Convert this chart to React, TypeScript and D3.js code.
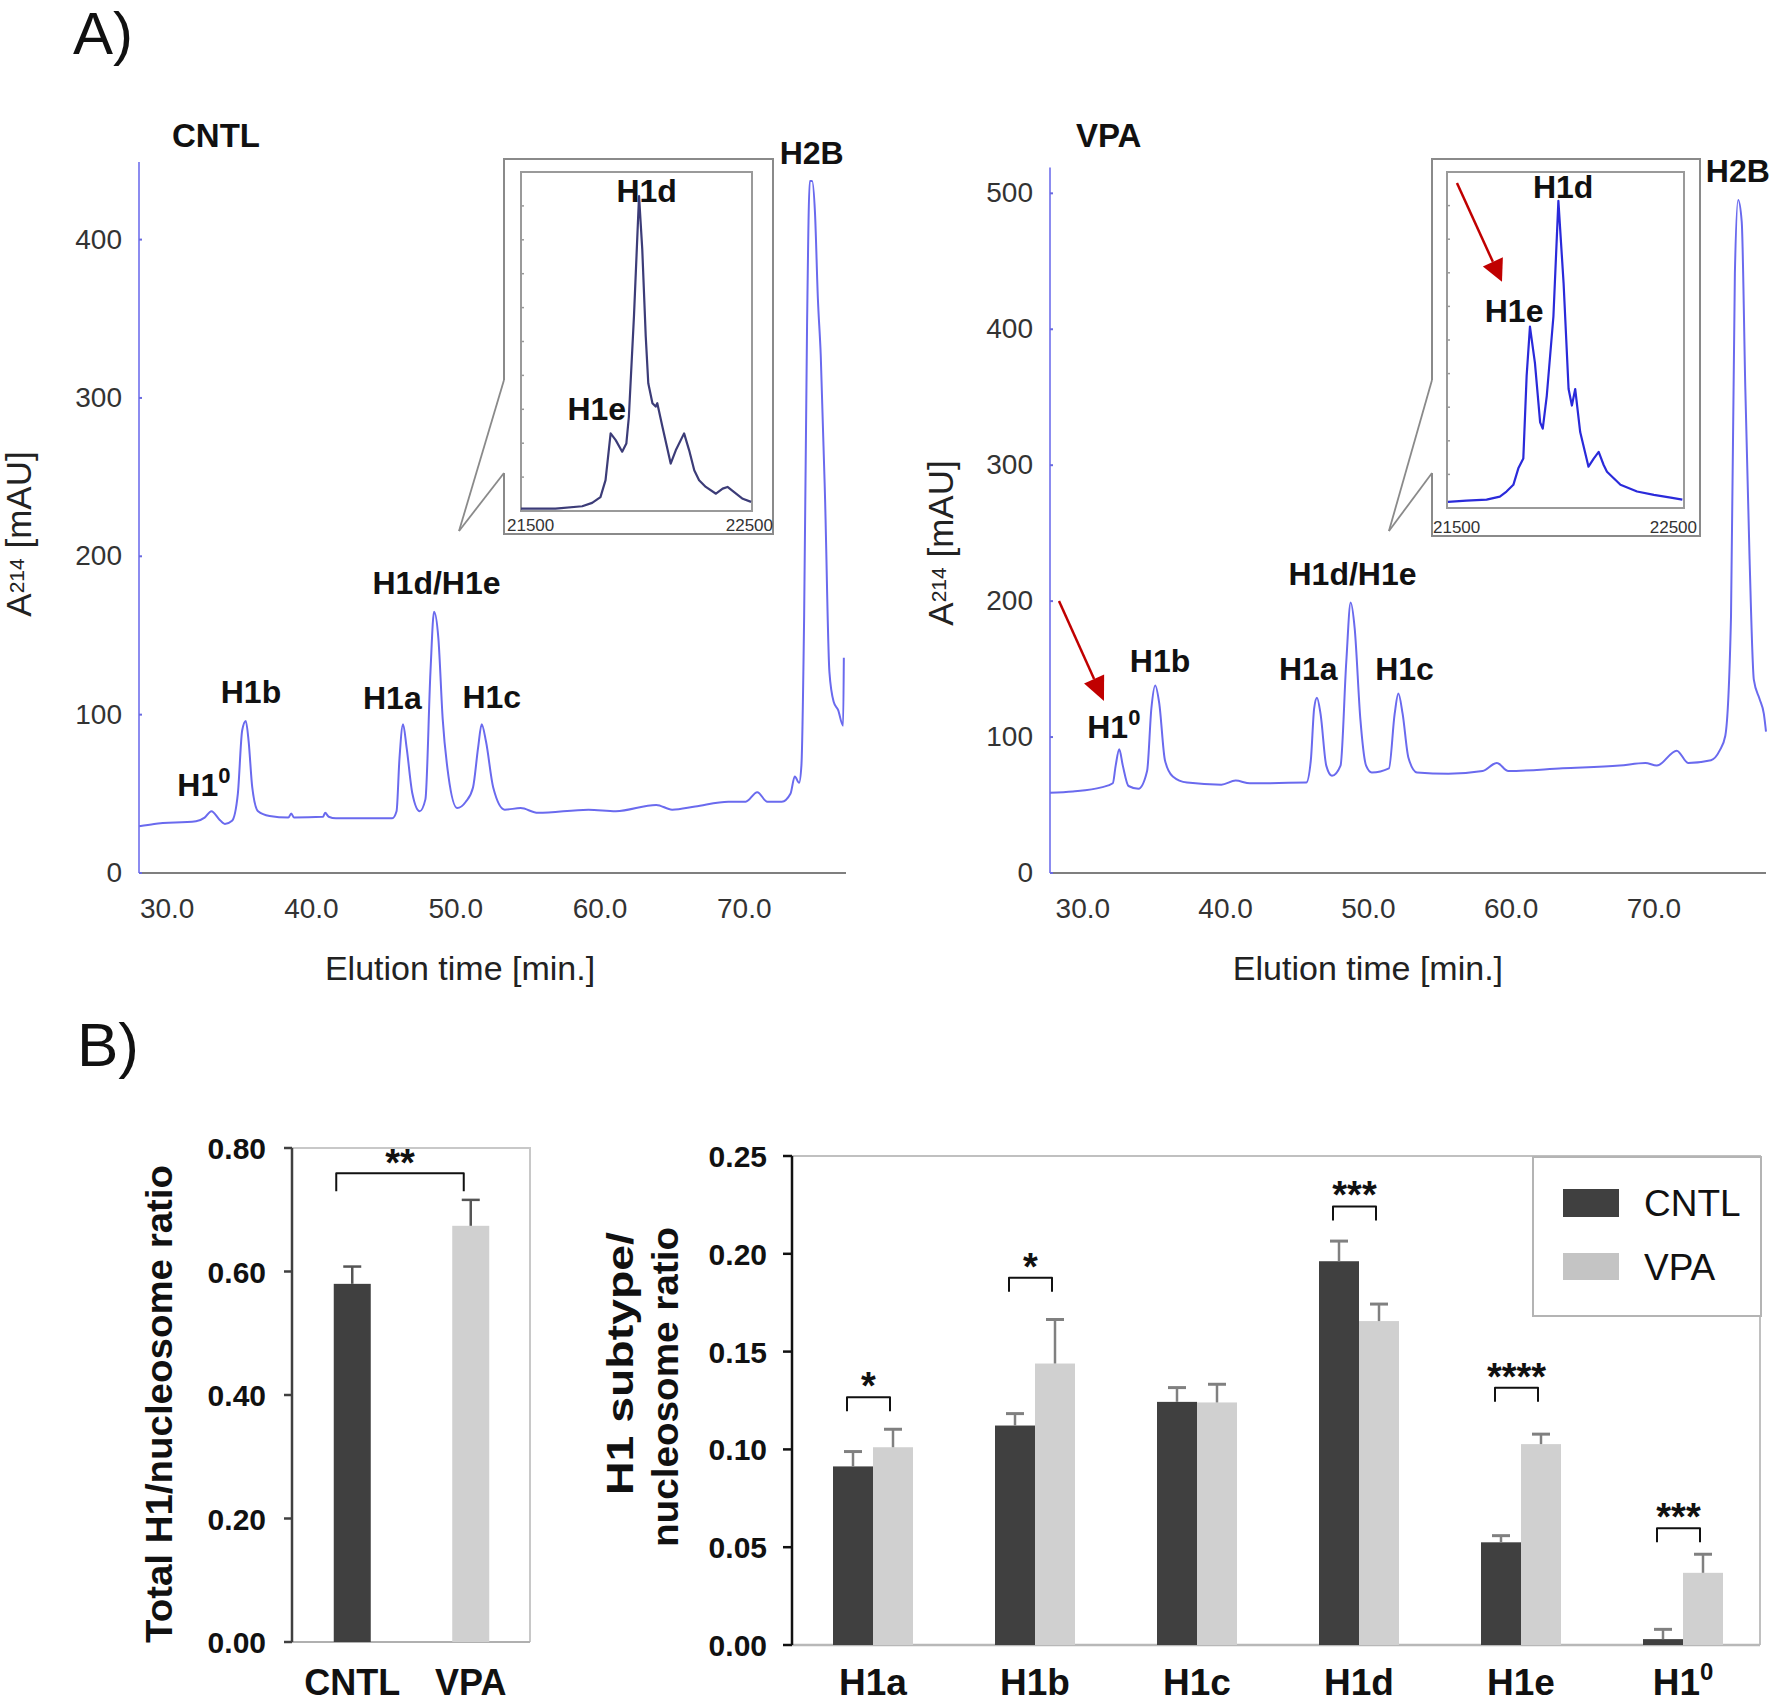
import React from 'react';
import * as d3 from 'd3';

const FONT = '"Liberation Sans", Arial, Helvetica, sans-serif';

type Pt = [number, number];

// ---------- Panel A: chromatograms, [elution time (min), A214 (mAU)] ----------
const cntlTrace: Pt[] = [
  [28.06, 29.5], [29.1, 31], [32.0, 32.7], [32.6, 35], [33.07, 39], [33.6, 34], [34.0, 31], [34.5, 33],
  [34.9, 50], [35.2, 90], [35.45, 96], [35.65, 83], [35.9, 54], [36.3, 39], [37.1, 36], [38.4, 35],
  [38.6, 37.5], [38.8, 35], [40.8, 35.5], [40.95, 38], [41.2, 35.5], [41.7, 34.5], [45.6, 34.5],
  [45.9, 39], [46.1, 72], [46.35, 94], [46.6, 79], [47.0, 50], [47.5, 39], [47.9, 46.5], [48.25, 127],
  [48.5, 165], [48.8, 148], [49.1, 97], [49.5, 61], [50.1, 41], [50.7, 45], [51.2, 54], [51.55, 79],
  [51.8, 94], [52.1, 83], [52.6, 54], [53.4, 40], [54.5, 41], [55.7, 38], [59.2, 40], [61.1, 39],
  [63.9, 43], [65.0, 40], [66.6, 42], [68.9, 45], [70.1, 45], [70.9, 51], [71.6, 45], [72.6, 45],
  [73.2, 50], [73.5, 61], [73.8, 57], [73.96, 68], [74.15, 163], [74.35, 345], [74.54, 437],
  [74.7, 437], [74.9, 417], [75.1, 363], [75.3, 327], [75.6, 236], [75.9, 127], [76.2, 108],
  [76.5, 103], [76.85, 93], [76.9, 136],
];

const vpaTrace: Pt[] = [
  [27.7, 59], [29.3, 60], [31.3, 63], [32.1, 66], [32.3, 79], [32.55, 91], [32.8, 79], [33.2, 64],
  [33.9, 62], [34.5, 75], [34.8, 121], [35.07, 138], [35.35, 125], [35.75, 83], [36.3, 71],
  [37.3, 66.5], [39.7, 65], [40.7, 68], [41.7, 66], [45.65, 66.5], [45.97, 83], [46.2, 121],
  [46.4, 129], [46.65, 117], [47.05, 79], [47.45, 71.5], [48.05, 79], [48.45, 155], [48.76, 199],
  [49.04, 180], [49.44, 113], [49.84, 79], [50.24, 74], [51.44, 77], [51.84, 117], [52.1, 132],
  [52.4, 117], [52.8, 85], [53.4, 74], [55.6, 73], [58.0, 75], [59.0, 81], [59.8, 75], [63.6, 77],
  [67.6, 79], [69.4, 81], [70.2, 79], [71.6, 90], [72.4, 81], [74.0, 83], [74.6, 90], [75.0, 101],
  [75.4, 189], [75.67, 441], [75.9, 495], [76.15, 479], [76.4, 357], [76.7, 231], [77.0, 142],
  [77.4, 128], [77.7, 117], [77.85, 104],
];

// insets: [retention index, relative signal %]
const cntlInset: Pt[] = [
  [21500, 0.7], [21649, 0.7], [21765, 1.4], [21808, 2.4], [21844, 4.1], [21866, 9.1], [21888, 22.9],
  [21910, 20.9], [21938, 17.5], [21956, 19.9], [21967, 27.8], [21989, 57.4], [22011, 92.9],
  [22025, 77.1], [22040, 51.5], [22051, 37.7], [22069, 31.8], [22083, 30.8], [22090, 31.8],
  [22112, 24.9], [22148, 14.0], [22170, 17.9], [22206, 22.9], [22228, 17.9], [22250, 12.0],
  [22271, 9.1], [22300, 7.1], [22344, 5.1], [22373, 6.6], [22394, 7.1], [22431, 5.1], [22460, 3.6],
  [22496, 2.7],
];

const vpaInset: Pt[] = [
  [21504, 1.8], [21582, 2.2], [21667, 2.5], [21723, 3.4], [21751, 4.9], [21780, 6.9], [21801, 11.8],
  [21822, 14.7], [21836, 39.3], [21850, 54.0], [21871, 43.2], [21893, 25.5], [21904, 23.6],
  [21921, 33.4], [21949, 57.0], [21970, 91.4], [21992, 66.8], [22013, 35.4], [22027, 30.5],
  [22041, 35.4], [22062, 22.6], [22097, 12.3], [22119, 14.7], [22140, 16.7], [22161, 12.8],
  [22175, 10.8], [22232, 6.9], [22302, 4.9], [22373, 3.9], [22444, 3.1], [22493, 2.5],
];

const timeTicks = [30, 40, 50, 60, 70];
const cntlYTicks = [0, 100, 200, 300, 400];
const vpaYTicks = [0, 100, 200, 300, 400, 500];
const insetTicks = [21500, 22500];

type PeakLabel = { text: string; sup?: string; t: number; v: number };
const cntlPeaks: PeakLabel[] = [
  { text: 'H1', sup: '0', t: 32.55, v: 48.6 },
  { text: 'H1b', t: 35.81, v: 107.4 },
  { text: 'H1a', t: 45.61, v: 103.6 },
  { text: 'H1d/H1e', t: 48.67, v: 176.5 },
  { text: 'H1c', t: 52.5, v: 104.2 },
  { text: 'H2B', t: 74.67, v: 447.9 },
];
const vpaPeaks: PeakLabel[] = [
  { text: 'H1', sup: '0', t: 32.17, v: 99.3 },
  { text: 'H1b', t: 35.41, v: 148.2 },
  { text: 'H1a', t: 45.79, v: 142.3 },
  { text: 'H1d/H1e', t: 48.89, v: 212.2 },
  { text: 'H1c', t: 52.53, v: 142.3 },
  { text: 'H2B', t: 75.88, v: 508.3 },
];
const cntlInsetPeaks: PeakLabel[] = [
  { text: 'H1d', t: 22044, v: 91.2 },
  { text: 'H1e', t: 21828, v: 26.8 },
];
const vpaInsetPeaks: PeakLabel[] = [
  { text: 'H1d', t: 21990, v: 92.3 },
  { text: 'H1e', t: 21783, v: 55.4 },
];

// ---------- Panel B: bar charts ----------
const groups = ['CNTL', 'VPA'];
const totalMean = [0.58, 0.674];
const totalSd = [0.028, 0.042];

const subtypes = ['H1a', 'H1b', 'H1c', 'H1d', 'H1e', 'H1⁰'];
const cntlMean = [0.0913, 0.1122, 0.1243, 0.1962, 0.0525, 0.003];
const cntlSd = [0.0076, 0.0061, 0.0073, 0.0103, 0.0034, 0.005];
const vpaMean = [0.1011, 0.1439, 0.124, 0.1656, 0.1027, 0.0369];
const vpaSd = [0.0092, 0.0225, 0.0093, 0.0087, 0.0051, 0.0095];
const sigStars = ['*', '*', '', '***', '****', '***'];
const sigLevel = [0.1267, 0.1878, 0, 0.2242, 0.1315, 0.0597];

const totalTicks = [0, 0.2, 0.4, 0.6, 0.8];
const subTicks = [0, 0.05, 0.1, 0.15, 0.2, 0.25];

const DARK = '#404040';
const LIGHT = '#d0d0d0';
const TRACE = '#6a6aee';

type Box = { x: number; y: number; w: number; h: number };
type Layout = {
  xDomain: [number, number]; xRange: [number, number];
  yDomain: [number, number]; yRange: [number, number];
  titleX: number; labelT: number; yLabelX: number; yLabelY: number;
  outer: Box; inner: Box; gap: [number, number]; tip: Pt;
  insetColor: string; tickPad: [number, number];
};

function arrow(x1: number, y1: number, x2: number, y2: number, len = 24, hw = 11) {
  const a = Math.atan2(y2 - y1, x2 - x1);
  const bx = x2 - len * Math.cos(a);
  const by = y2 - len * Math.sin(a);
  const px = -Math.sin(a) * hw;
  const py = Math.cos(a) * hw;
  return (
    <g>
      <line x1={x1} y1={y1} x2={bx} y2={by} stroke="#c00000" strokeWidth={2.5} />
      <path d={`M${x2},${y2}L${bx + px},${by + py}L${bx - px},${by - py}Z`} fill="#c00000" />
    </g>
  );
}

function label(p: PeakLabel, x: number, y: number, key: string | number, size = 32) {
  return (
    <text key={key} x={x} y={y} textAnchor="middle" fontSize={size} fontWeight="bold" fill="#111">
      {p.text}
      {p.sup && <tspan fontSize={22} dy={-13}>{p.sup}</tspan>}
    </text>
  );
}

function Chromatogram(props: {
  trace: Pt[]; inset: Pt[]; peaks: PeakLabel[]; insetPeaks: PeakLabel[]; yTicks: number[];
  title: string; lay: Layout; arrows?: [Pt, Pt]; insetArrow?: [Pt, Pt];
}) {
  const { trace, inset, peaks, insetPeaks, yTicks, title, lay } = props;
  const x = d3.scaleLinear().domain(lay.xDomain).range(lay.xRange);
  const y = d3.scaleLinear().domain(lay.yDomain).range(lay.yRange);
  const line = d3.line<Pt>().x(d => x(d[0])).y(d => y(d[1])).curve(d3.curveMonotoneX);
  const { outer, inner } = lay;
  const ix = d3.scaleLinear().domain([21500, 22500]).range([inner.x, inner.x + inner.w]);
  const iy = d3.scaleLinear().domain([0, 100]).range([inner.y + inner.h, inner.y]);
  const iline = d3.line<Pt>().x(d => ix(d[0])).y(d => iy(d[1]));
  const [x0, x1] = lay.xRange;
  const [yb, yt] = lay.yRange;
  const tipX = x(lay.tip[0]);
  const tipY = y(lay.tip[1]);
  const ob = outer.y + outer.h;

  return (
    <g fontFamily={FONT}>
      <text x={lay.titleX} y={147} fontSize={33} fontWeight="bold" fill="#111">{title}</text>
      {/* axes */}
      <line x1={x0} x2={x1} y1={yb} y2={yb} stroke="#555" strokeWidth={1.5} />
      <line x1={x0} x2={x0} y1={yb} y2={yt} stroke="#8c8cf0" strokeWidth={2} />
      {yTicks.map(t => (
        <g key={t}>
          <line x1={x0} x2={x0 + 3} y1={y(t)} y2={y(t)} stroke="#6a6ae0" strokeWidth={2} />
          <text x={x0 - 17} y={y(t) + 9} textAnchor="end" fontSize={28} fill="#333">{t}</text>
        </g>
      ))}
      {timeTicks.map(t => (
        <text key={t} x={x(t)} y={918} textAnchor="middle" fontSize={28} fill="#333">{t.toFixed(1)}</text>
      ))}
      <text x={x(lay.labelT)} y={980} textAnchor="middle" fontSize={34} fill="#222">Elution time [min.]</text>
      <text transform={`translate(${lay.yLabelX},${lay.yLabelY}) rotate(-90)`} textAnchor="middle" fontSize={35} fill="#222">
        A<tspan fontSize={21} dy={-7}>214</tspan><tspan dy={7}> [mAU]</tspan>
      </text>
      <path d={line(trace) ?? ''} fill="none" stroke={TRACE} strokeWidth={2} strokeLinejoin="round" />
      {peaks.map((p, i) => label(p, x(p.t), y(p.v), i))}

      {/* inset */}
      <path
        d={`M${outer.x},${lay.gap[0]}V${outer.y}H${outer.x + outer.w}V${ob}H${outer.x}V${lay.gap[1]}`}
        fill="none" stroke="#8a8a8a" strokeWidth={2}
      />
      <line x1={outer.x} y1={lay.gap[0]} x2={tipX} y2={tipY} stroke="#8a8a8a" strokeWidth={1.8} />
      <line x1={outer.x} y1={lay.gap[1]} x2={tipX} y2={tipY} stroke="#8a8a8a" strokeWidth={1.8} />
      <rect x={inner.x} y={inner.y} width={inner.w} height={inner.h} fill="white" stroke="#9a9a9a" strokeWidth={2} />
      {d3.range(10, 100, 10).map(v => (
        <line key={v} x1={inner.x} x2={inner.x + 3} y1={iy(v)} y2={iy(v)} stroke="#999" strokeWidth={1.5} />
      ))}
      <path d={iline(inset) ?? ''} fill="none" stroke={lay.insetColor} strokeWidth={2.2} strokeLinejoin="round" />
      {insetTicks.map((t, i) => (
        <text key={t} x={ix(t) + lay.tickPad[i]} y={ob - 3} textAnchor={i === 0 ? 'start' : 'end'} fontSize={17} fill="#333">{t}</text>
      ))}
      {insetPeaks.map((p, i) => label(p, ix(p.t), iy(p.v), 'i' + i))}
      {props.arrows && arrow(x(props.arrows[0][0]), y(props.arrows[0][1]), x(props.arrows[1][0]), y(props.arrows[1][1]))}
      {props.insetArrow && arrow(ix(props.insetArrow[0][0]), iy(props.insetArrow[0][1]), ix(props.insetArrow[1][0]), iy(props.insetArrow[1][1]), 22, 11)}
    </g>
  );
}

const cntlLayout: Layout = {
  xDomain: [28.05, 77.05], xRange: [139, 846], yDomain: [0, 449], yRange: [873, 162],
  titleX: 172, labelT: 50.3, yLabelX: 31, yLabelY: 534,
  outer: { x: 504, y: 159, w: 269, h: 375 }, inner: { x: 521, y: 172, w: 231, h: 339 },
  gap: [380, 473], tip: [50.23, 216], insetColor: '#3c3c78', tickPad: [-14, 21],
};
const vpaLayout: Layout = {
  xDomain: [27.7, 77.85], xRange: [1050, 1766], yDomain: [0, 519], yRange: [873, 167.5],
  titleX: 1076, labelT: 49.97, yLabelX: 953, yLabelY: 543,
  outer: { x: 1432, y: 159, w: 268, h: 377 }, inner: { x: 1447, y: 172, w: 237, h: 336 },
  gap: [380, 473], tip: [51.44, 251.6], insetColor: '#2a2ada', tickPad: [-14, 13],
};

function TotalChart() {
  const y = d3.scaleLinear().domain([0, 0.8]).range([1642, 1148]);
  const x = d3.scaleBand<string>().domain(groups).range([293, 530]);
  const bw = 37;
  const cx = (g: string) => (x(g) ?? 0) + x.bandwidth() / 2;
  const bTop = y(0.759);
  const bx1 = cx('CNTL') - 16;
  const bx2 = cx('VPA') - 7;
  const [yb, yt] = y.range();
  return (
    <g fontFamily={FONT}>
      <path d={`M292,${yt}H530V${yb}`} fill="none" stroke="#c8c8c8" strokeWidth={2} />
      <line x1={292} x2={530} y1={yb} y2={yb} stroke="#b0b0b0" strokeWidth={2} />
      {groups.map((g, i) => (
        <g key={g}>
          <rect x={cx(g) - bw / 2} y={y(totalMean[i])} width={bw} height={y(0) - y(totalMean[i])} fill={i === 0 ? DARK : LIGHT} />
          <line x1={cx(g)} x2={cx(g)} y1={y(totalMean[i])} y2={y(totalMean[i] + totalSd[i])} stroke="#555" strokeWidth={2.5} />
          <line x1={cx(g) - 9} x2={cx(g) + 9} y1={y(totalMean[i] + totalSd[i])} y2={y(totalMean[i] + totalSd[i])} stroke="#555" strokeWidth={2.5} />
          <text x={cx(g)} y={1695} textAnchor="middle" fontSize={36} fontWeight="bold" fill="#111">{g}</text>
        </g>
      ))}
      <line x1={292} x2={292} y1={yt} y2={yb} stroke="#404040" strokeWidth={2.5} />
      {totalTicks.map(t => (
        <g key={t}>
          <line x1={284} x2={292} y1={y(t)} y2={y(t)} stroke="#404040" strokeWidth={2.5} />
          <text x={266} y={y(t) + 11} textAnchor="end" fontSize={30} fontWeight="bold" fill="#111">{t.toFixed(2)}</text>
        </g>
      ))}
      <path d={`M${bx1},${bTop + 18}V${bTop}H${bx2}V${bTop + 18}`} fill="none" stroke="#111" strokeWidth={2} strokeLinejoin="round" />
      <text x={(bx1 + bx2) / 2} y={bTop + 3} textAnchor="middle" fontSize={38} fontWeight="bold" fill="#111">**</text>
      <text transform="translate(172,1404) rotate(-90)" textAnchor="middle" fontSize={37} fontWeight="bold" fill="#111" textLength={478} lengthAdjust="spacingAndGlyphs">
        Total H1/nucleosome ratio
      </text>
    </g>
  );
}

function SubtypeChart() {
  const y = d3.scaleLinear().domain([0, 0.25]).range([1645, 1156]);
  const x = d3.scaleBand<string>().domain(subtypes).range([792, 1764]);
  const bw = 40;
  const err = (cx: number, m: number, s: number) => (
    <g>
      <line x1={cx} x2={cx} y1={y(m)} y2={y(m + s)} stroke="#808080" strokeWidth={2.5} />
      <line x1={cx - 9} x2={cx + 9} y1={y(m + s)} y2={y(m + s)} stroke="#808080" strokeWidth={3} />
    </g>
  );
  return (
    <g fontFamily={FONT}>
      <path d={`M792,1156H1760V1645`} fill="none" stroke="#c0c0c0" strokeWidth={2} />
      <line x1={792} x2={1760} y1={1645} y2={1645} stroke="#b8b8b8" strokeWidth={2.5} />
      {subtypes.map((s, i) => {
        const c = (x(s) ?? 0) + x.bandwidth() / 2;
        const bx1 = c - 26;
        const bx2 = c + 17;
        const bt = y(sigLevel[i]);
        const base = s.replace('⁰', '');
        return (
          <g key={s}>
            <rect x={c - bw} y={y(cntlMean[i])} width={bw} height={y(0) - y(cntlMean[i])} fill={DARK} />
            <rect x={c} y={y(vpaMean[i])} width={bw} height={y(0) - y(vpaMean[i])} fill={LIGHT} />
            {err(c - bw / 2, cntlMean[i], cntlSd[i])}
            {err(c + bw / 2, vpaMean[i], vpaSd[i])}
            {sigStars[i] && (
              <g>
                <path d={`M${bx1},${bt + 14}V${bt}H${bx2}V${bt + 14}`} fill="none" stroke="#111" strokeWidth={2} strokeLinejoin="round" />
                <text x={(bx1 + bx2) / 2} y={bt + 2} textAnchor="middle" fontSize={38} fontWeight="bold" fill="#111">{sigStars[i]}</text>
              </g>
            )}
            <text x={c} y={1695} textAnchor="middle" fontSize={37} fontWeight="bold" fill="#111">
              {base}
              {s.includes('⁰') && <tspan fontSize={24} dy={-15}>0</tspan>}
            </text>
          </g>
        );
      })}
      <line x1={792} x2={792} y1={1156} y2={1645} stroke="#111" strokeWidth={2.5} />
      {subTicks.map(t => (
        <g key={t}>
          <line x1={783} x2={792} y1={y(t)} y2={y(t)} stroke="#111" strokeWidth={2.5} />
          <text x={767} y={y(t) + 11} textAnchor="end" fontSize={30} fontWeight="bold" fill="#111">{t.toFixed(2)}</text>
        </g>
      ))}
      {/* legend */}
      <rect x={1533} y={1157} width={228} height={159} fill="white" stroke="#b4b4b4" strokeWidth={2} />
      <rect x={1563} y={1189} width={56} height={28} fill={DARK} />
      <rect x={1563} y={1253} width={56} height={27} fill="#c4c4c4" />
      <text x={1644} y={1216} fontSize={37} fill="#111">CNTL</text>
      <text x={1644} y={1280} fontSize={37} fill="#111">VPA</text>
      <text transform="translate(633,1495) rotate(-90)" fontSize={37} fontWeight="bold" fill="#111" textLength={263} lengthAdjust="spacingAndGlyphs">
        H1 subtype/
      </text>
      <text transform="translate(678,1547) rotate(-90)" fontSize={37} fontWeight="bold" fill="#111" textLength={320} lengthAdjust="spacingAndGlyphs">
        nucleosome ratio
      </text>
    </g>
  );
}

export default function App() {
  return (
    <div>
      <style>{'body{margin:0;background:#fff}'}</style>
      <svg width={1773} height={1703} viewBox="0 0 1773 1703" style={{ display: 'block', background: '#fff' }}>
        <text x={73} y={54} fontFamily={FONT} fontSize={60} fill="#111">A)</text>
        <text x={77} y={1066} fontFamily={FONT} fontSize={62} fill="#111">B)</text>
        <Chromatogram
          trace={cntlTrace} inset={cntlInset} peaks={cntlPeaks} insetPeaks={cntlInsetPeaks}
          yTicks={cntlYTicks} title="CNTL" lay={cntlLayout}
        />
        <Chromatogram
          trace={vpaTrace} inset={vpaInset} peaks={vpaPeaks} insetPeaks={vpaInsetPeaks}
          yTicks={vpaYTicks} title="VPA" lay={vpaLayout}
          arrows={[[28.33, 200.1], [31.48, 126.6]]}
          insetArrow={[[21542, 96.7], [21732, 67.3]]}
        />
        <TotalChart />
        <SubtypeChart />
      </svg>
    </div>
  );
}
